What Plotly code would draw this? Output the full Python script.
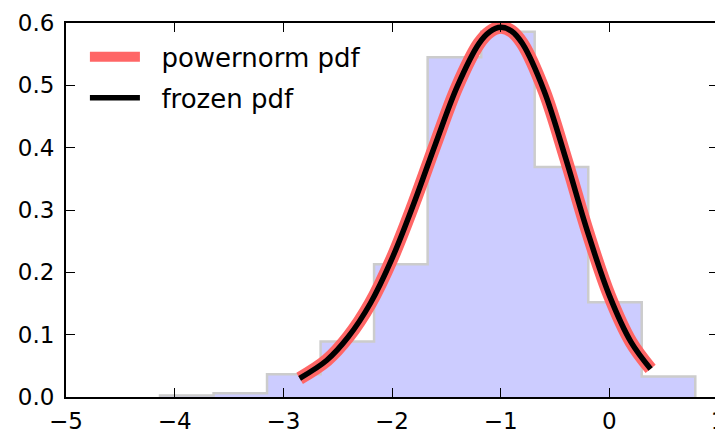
import plotly.graph_objects as go

# Histogram (density)
bin_edges = [-4.135, -3.642, -3.150, -2.657, -2.165, -1.672, -1.179, -0.687, -0.194, 0.298, 0.791]
bin_heights = [0.0025, 0.0061, 0.0365, 0.089, 0.213, 0.545, 0.586, 0.369, 0.152, 0.033]

# pdf curve
curve_x = [-2.85, -2.6, -2.4, -2.2, -2.0, -1.8, -1.6, -1.4, -1.2, -1.1, -1.0, -0.9,
           -0.8, -0.6, -0.4, -0.2, 0.0, 0.2, 0.38]
curve_y = [0.030, 0.059, 0.097, 0.150, 0.222, 0.310, 0.406, 0.498, 0.567, 0.586, 0.593, 0.587,
           0.567, 0.491, 0.382, 0.265, 0.163, 0.088, 0.045]

x_ticks = [-5, -4, -3, -2, -1, 0, 1]
y_ticks = [0.0, 0.1, 0.2, 0.3, 0.4, 0.5, 0.6]

# step outline for stepfilled histogram
sx, sy = [bin_edges[0]], [0.0]
for i, h in enumerate(bin_heights):
    sx += [bin_edges[i], bin_edges[i + 1]]
    sy += [h, h]
sx.append(bin_edges[-1])
sy.append(0.0)

fig = go.Figure()
fig.add_trace(go.Scatter(x=sx, y=sy, mode="lines", fill="toself",
                         fillcolor="#ccccff", line=dict(color="#cccccc", width=2.5),
                         showlegend=False, hoverinfo="skip"))
fig.add_trace(go.Scatter(x=curve_x, y=curve_y, mode="lines", name="\u00a0\u00a0powernorm pdf",
                         line=dict(color="#ff6666", width=13, shape="spline"),
                         legendgroup="a"))
fig.add_trace(go.Scatter(x=curve_x, y=curve_y, mode="lines", name="\u00a0\u00a0frozen pdf",
                         line=dict(color="black", width=5.5, shape="spline"),
                         legendgroup="b"))

axis_common = dict(showline=True, linecolor="black", linewidth=2, mirror="ticks",
                   ticks="inside", ticklen=9, tickwidth=1, tickcolor="black",
                   showgrid=False, zeroline=False, ticklabeloverflow="allow",
                   automargin=False,
                   tickfont=dict(family="DejaVu Sans", size=23, color="black"))

fig.update_xaxes(range=[-5, 1], tickvals=x_ticks, ticklabelstandoff=2, **axis_common)
fig.update_yaxes(range=[0, 0.6], tickvals=y_ticks, tickformat=".1f",
                 ticklabelstandoff=5, **axis_common)

# the page body has an 8px margin, so the figure is sized to end at the window edge
fig.update_layout(
    width=715, height=422,
    margin=dict(l=58, r=5, t=15, b=33),
    plot_bgcolor="white", paper_bgcolor="white",
    font=dict(family="DejaVu Sans", size=23, color="black"),
    legend=dict(x=0.029, y=0.972, xanchor="left", yanchor="top",
                bgcolor="rgba(0,0,0,0)", borderwidth=0, itemwidth=50,
                tracegroupgap=4, font=dict(family="DejaVu Sans", size=26, color="black")),
)

fig.write_html("out.html")
